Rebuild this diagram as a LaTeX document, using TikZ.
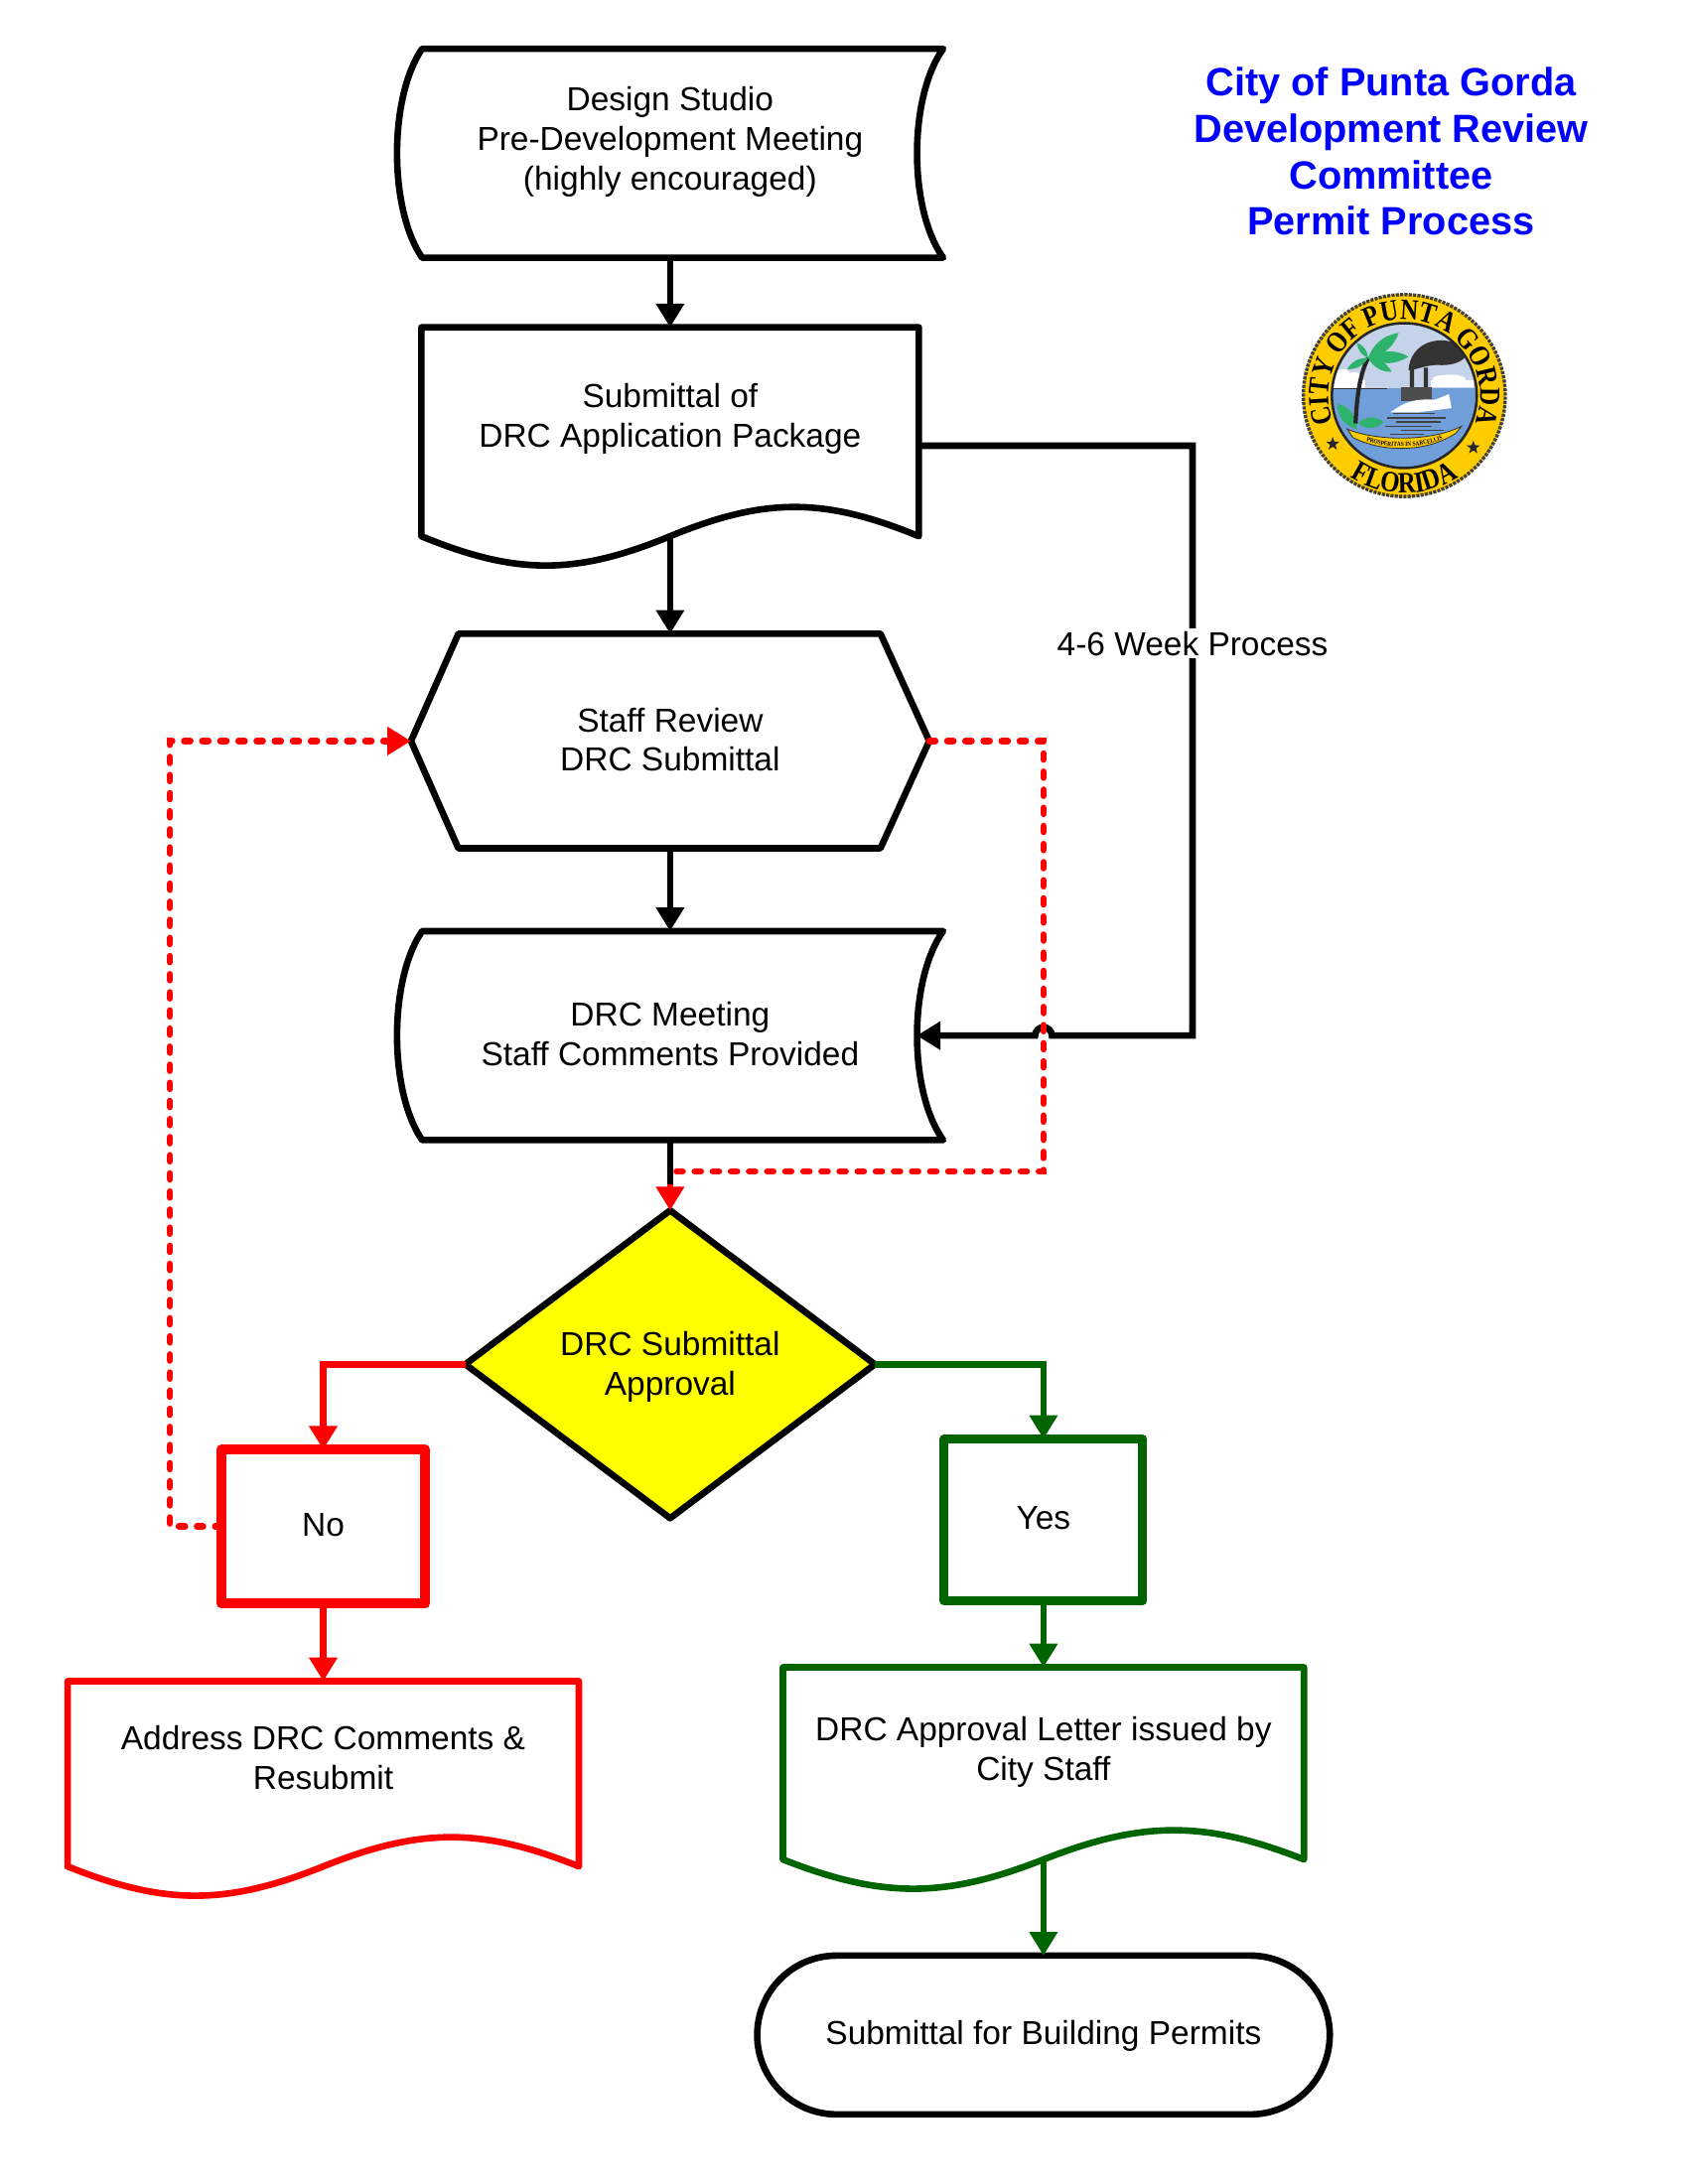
\documentclass[tikz,border=0pt]{standalone}
\usepackage{fontspec}
\setmainfont{Liberation Sans}
\newfontfamily\sealfont[FakeStretch=0.85]{Liberation Serif}
\usetikzlibrary{arrows.meta,calc,decorations.text,shapes.geometric}
\definecolor{dgreen}{RGB}{0,100,0}
\definecolor{titleblue}{RGB}{0,0,255}
\definecolor{flowyellow}{RGB}{255,255,0}
\definecolor{sealgold}{RGB}{255,204,0}
\definecolor{sealsky}{RGB}{197,211,232}
\definecolor{sealwater}{RGB}{112,158,216}
\definecolor{sealleaf}{RGB}{45,179,107}
\tikzset{
  x=1pt,y=-1pt,
  frame/.style={rectangle,inner sep=0pt,outer sep=0pt,draw=none},
  label text/.style={align=center,font=\fontsize{23.85}{28.5}\selectfont,inner sep=0pt},
  outline/.style={line width=4.7pt,line join=round},
  blackline/.style={line width=4.7pt,draw=black},
  tipped/.style={-{Triangle[width=19.5pt,length=17pt]}},
  blacktip/.style={blackline,tipped},
  redtip/.style={line width=4.7pt,draw=red,tipped},
  greentip/.style={line width=4.7pt,draw=dgreen,tipped},
  reddash/.style={line width=4.7pt,draw=red,line cap=round,dash pattern=on 4.3pt off 8.7pt},
  leaf/.style={fill=sealleaf},
}
\newcommand{\docpath}[2]{% node name, colour
  \draw[outline,draw=#2] (#1.south west) -- (#1.north west) -- (#1.north east) -- (#1.south east)
    .. controls ($(#1.south east)+(-0.19*\docw,-28)$) and ($(#1.south)+(0.19*\docw,-28)$) .. (#1.south)
    .. controls ($(#1.south)+(-0.19*\docw,28)$) and ($(#1.south west)+(0.19*\docw,28)$) .. (#1.south west) -- cycle;}
\newcommand{\scrollpath}[1]{%
  \draw[outline] ($(#1.north west)+(18,0)$) -- (#1.north east)
    .. controls ($(#1.east)+(-25,-40)$) and ($(#1.east)+(-25,40)$) .. (#1.south east) -- ($(#1.south west)+(18,0)$)
    .. controls ($(#1.west)+(-6,40)$) and ($(#1.west)+(-6,-40)$) .. cycle;}
\begin{document}
\begin{tikzpicture}
\useasboundingbox (0,0) rectangle (1212,1568);

% title
\node[align=center,text=titleblue,inner sep=0pt,font=\fontsize{28.3}{33.3}\selectfont\bfseries] (title) at (998.5,108.7)
  {City of Punta Gorda\\Development Review\\Committee\\Permit Process};

% nodes (frames), text carried separately where it is off centre
\node[frame,minimum width=392pt,minimum height=150pt] (n1) at (481,110) {};
\node[label text] (t1) at (481,102) {Design Studio\\Pre-Development Meeting\\(highly encouraged)};
\node[frame,minimum width=357pt,minimum height=150pt] (n2) at (481,310) {};
\node[label text] (t2) at (481,300.5) {Submittal of\\DRC Application Package};
\node[frame,minimum width=372pt,minimum height=154pt] (n3) at (481,532) {};
\node[label text] (t3) at (481,531) {Staff Review\\DRC Submittal};
\node[frame,minimum width=392pt,minimum height=150pt] (n4) at (481,743.5) {};
\node[label text] (t4) at (481,742) {DRC Meeting\\Staff Comments Provided};
\node[frame,minimum width=294pt,minimum height=221pt] (d) at (481,979.5) {};
\node[frame,minimum width=146.5pt,minimum height=110.5pt] (no) at (232,1096) {};
\node[frame,minimum width=142.6pt,minimum height=116.3pt] (yes) at (749,1091.2) {};
\node[frame,minimum width=367pt,minimum height=133pt] (dr) at (232,1273.5) {};
\node[frame,minimum width=374pt,minimum height=138pt] (dg) at (749,1266) {};
\node[frame,minimum width=411pt,minimum height=114pt,rounded corners=57pt,draw=black,line width=4.7pt] (term) at (749,1461) {};
\coordinate (n2out) at ($(n2.east)+(0,10)$);
\coordinate (n4in) at ($(n4.east)+(-19,0)$);
\coordinate (r1) at ($(n4in)+(198,0)$);
\coordinate (r2) at (r1 |- n2out);
\coordinate (jr) at ($(n4in)+(97,0)$);
\coordinate (jl) at ($(n4in)+(85,0)$);
\coordinate (q1) at ($(n4in)+(91,-211.5)$);
\coordinate (q2) at ($(n4in)+(91,97.5)$);
\coordinate (q3) at (n4.south |- q2);
\coordinate (q4) at ($(d.north)+(0,-19)$);
\coordinate (q5) at ($(d.north)+(0,-12)$);
\coordinate (p1) at (122,1096);
\coordinate (p2) at (122,532);
\coordinate (p3) at ($(n3.west)+(-19,0)$);
\coordinate (g1) at (yes.north |- d.east);
\coordinate (g2) at (no.north |- d.west);

% black connectors
\draw[blacktip] (n1.south) -- (n2.north);
\draw[blacktip] (n2.south) -- (n3.north);
\draw[blacktip] (n3.south) -- (n4.north);
\draw[blacktip] (n2out) -- (r2) -- (r1) -- (jr) arc[start angle=0,end angle=180,radius=6pt] -- (n4in);
\draw[blackline] (n4.south) -- (q5);
\node[fill=white,inner sep=2pt,font=\fontsize{23.85}{28.5}\selectfont] (wk) at (856,462) {4-6 Week Process};

% shapes
\scrollpath{n1}
\def\docw{357}\docpath{n2}{black}
\draw[outline] (n3.west) -- ($(n3.north west)+(34,0)$) -- ($(n3.north east)+(-35,0)$) -- (n3.east) -- ($(n3.south east)+(-35,0)$) -- ($(n3.south west)+(34,0)$) -- cycle;
\scrollpath{n4}
\draw[outline,fill=flowyellow] (d.north) -- (d.east) -- (d.south) -- (d.west) -- cycle;
\draw[line width=7pt,draw=red,line join=round] (no.north west) rectangle (no.south east);
\draw[line width=6.4pt,draw=dgreen,line join=round] (yes.north west) rectangle (yes.south east);
\def\docw{367}\docpath{dr}{red}
\def\docw{374}\docpath{dg}{dgreen}

% coloured connectors
\draw[reddash] (n3.east) -- (q1) -- (q2) -- (q3);
\draw[reddash] (no.west) -- (p1) -- (p2) -- (p3);
\draw[redtip] (p3) -- (n3.west);
\draw[redtip] (q4) -- (d.north);
\draw[redtip] (d.west) -- (g2) -- (no.north);
\draw[redtip] (no.south) -- (dr.north);
\draw[greentip] (d.east) -- (g1) -- (yes.north);
\draw[greentip] (yes.south) -- (dg.north);
\draw[greentip] (dg.south) -- (term.north);

% text
\node[label text] (t5) at (481,981) {DRC Submittal\\Approval};
\node[label text] (t6) at (232,1095) {No};
\node[label text] (t7) at (749,1090) {Yes};
\node[label text] (t8) at (232,1262) {Address DRC Comments \&\\Resubmit};
\node[label text] (t9) at (749,1257.5) {DRC Approval Letter issued by\\City Staff};
\node[label text] (t10) at (749,1462) {Submittal for Building Permits};

% seal
\begin{scope}[x=1pt,y=1pt,shift={(1008,-284)}]
  \fill[sealgold] (0,0) circle (73);
  \draw[black!75,line width=2.4pt,dash pattern=on 2.2pt off 0.9pt] (0,0) circle (72.5);
  \begin{scope}
    \clip (0,0) circle (52);
    \fill[sealwater] (-60,-60) rectangle (60,60);
    \fill[sealsky] (-60,5) rectangle (60,60);
    \fill[white] (-52,5) rectangle (-28,11);
    \fill[white] (-44,13) circle (6) (-36,12) circle (5);
    \fill[white] (19,6) rectangle (50,11);
    \fill[white] (32,12) ellipse (12 and 3);
    \draw[black!80,line width=1pt] (-52,5) -- (-12,5);
    % smoke
    \fill[black!80] (3,18) .. controls (4,38) and (26,46) .. (44,34) .. controls (48,26) and (36,21) .. (24,22) .. controls (16,22) and (10,19) .. cycle;
    % stacks
    \fill[black!80] (4,3) rectangle (7,20) (14,3) rectangle (17,20);
    % boat
    \fill[black!70] (-2,-4) rectangle (20,6);
    \fill[white] (-10,-12) .. controls (0,-5) and (6,-2) .. (22,-3) -- (32,1) -- (34,-9) -- (10,-12) -- cycle;
    % ripples
    \foreach \yy/\xa/\xb in {-13/-8/22,-16/-12/30,-19/-6/26,-22/-14/20,-25/-2/28,-28/-10/14}
      \draw[black!75,line width=1pt] (\xa,\yy) -- (\xb,\yy);
    % bushes
    \fill[leaf] (-34,-24) to[bend left=40] (-48,-6) to[bend left=40] (-34,-24);
    \fill[leaf] (-33,-20) to[bend left=45] (-15,-19) to[bend left=45] (-33,-20);
    % palm
    \draw[black!85,line width=3pt] (-35,-20) .. controls (-34,0) and (-32,15) .. (-26,27);
    \foreach \tx/\ty in {-4/45,3/28,-9/17,-34/38,-41/19}
      \fill[leaf] (-26,27) to[bend left=30] (\tx,\ty) to[bend left=30] (-26,27);
  \end{scope}
  \draw[black!85,line width=1.8pt] (0,0) circle (52);
  % banner
  \fill[sealgold,draw=black!80,line width=0.6pt] (-41,-24) .. controls (-20,-33) and (20,-33) .. (41,-22) -- (37,-27) .. controls (16,-41) and (-16,-41) .. (-37,-30) -- cycle;
  \path[decorate,decoration={text along path,text align=center,text={|\fontsize{4.6}{5}\sealfont\bfseries|PROSPERITAS IN SARCELLIS}}]
     (-36,-29.5) .. controls (-16,-39.5) and (16,-39.5) .. (36,-27);
  % ring lettering
  \path[decorate,decoration={text along path,text align=center,text={|\fontsize{21}{21}\sealfont\bfseries|CITY OF PUNTA GORDA}}]
     (199:54.5) arc[start angle=199,end angle=-19,radius=54.5];
  \path[decorate,decoration={text along path,text align=center,text={|\fontsize{21}{21}\sealfont\bfseries|FLORIDA}}]
     (226:70) arc[start angle=226,end angle=314,radius=70];
  \node[star,star points=5,star point ratio=2.4,fill=black!85,minimum size=10pt,inner sep=0pt] (s1) at (214:62) {};
  \node[star,star points=5,star point ratio=2.4,fill=black!85,minimum size=10pt,inner sep=0pt] (s2) at (-37:62) {};
\end{scope}
\end{tikzpicture}
\end{document}
